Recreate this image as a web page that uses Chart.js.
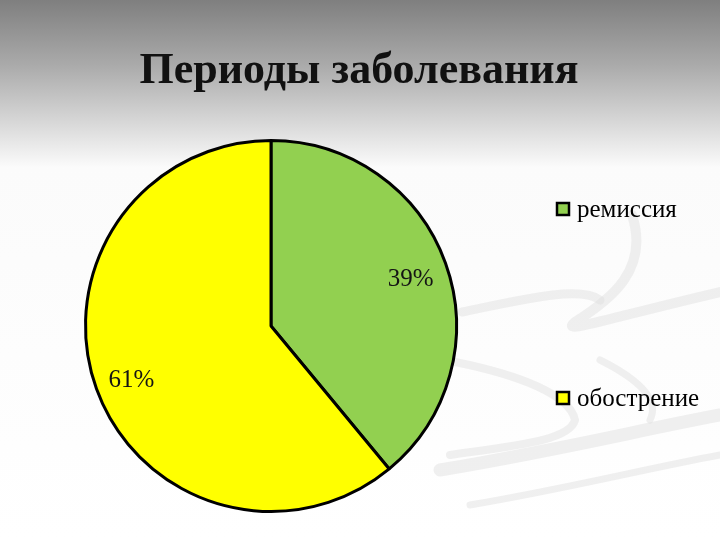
<!DOCTYPE html>
<html>
<head>
<meta charset="utf-8">
<script src="https://cdn.jsdelivr.net/npm/chart.js@4"></script>
<style>
  html, body { margin: 0; padding: 0; background: #ffffff; }
  #wrap { width: 720px; height: 540px; position: relative; }
</style>
</head>
<body>
<div id="wrap"><canvas id="c" width="720" height="540"></canvas></div>
<script>
const chartTitle = 'Периоды заболевания';
const categories = ['ремиссия', 'обострение'];
const values = [39, 61];
const percentLabels = ['39%', '61%'];
const sliceColors = ['#92D050', '#FFFF00'];

const backgroundPlugin = {
  id: 'slideBackground',
  beforeDraw(chart) {
    const ctx = chart.ctx;
    const w = chart.width, h = chart.height;
    ctx.save();
    const g = ctx.createLinearGradient(0, 0, 0, h);
    g.addColorStop(0, '#7f7f7f');
    g.addColorStop(0.12, '#aaaaaa');
    g.addColorStop(0.31, '#fbfbfb');
    g.addColorStop(1, '#ffffff');
    ctx.fillStyle = g;
    ctx.fillRect(0, 0, w, h);
    // decorative swooshes
    ctx.lineCap = 'round';
    ctx.strokeStyle = 'rgba(222,222,222,0.45)';
    ctx.lineWidth = 10;
    ctx.beginPath();
    ctx.moveTo(632, 215);
    ctx.bezierCurveTo(650, 270, 610, 300, 575, 322);
    ctx.bezierCurveTo(560, 335, 600, 320, 720, 292);
    ctx.stroke();
    ctx.lineWidth = 9;
    ctx.beginPath();
    ctx.moveTo(462, 312);
    ctx.bezierCurveTo(520, 300, 580, 285, 600, 300);
    ctx.stroke();
    ctx.lineWidth = 8;
    ctx.beginPath();
    ctx.moveTo(455, 362);
    ctx.bezierCurveTo(520, 375, 570, 395, 575, 420);
    ctx.bezierCurveTo(570, 440, 520, 445, 450, 455);
    ctx.stroke();
    ctx.lineWidth = 13;
    ctx.beginPath();
    ctx.moveTo(440, 470);
    ctx.bezierCurveTo(560, 450, 640, 430, 720, 415);
    ctx.stroke();
    ctx.lineWidth = 7;
    ctx.beginPath();
    ctx.moveTo(470, 505);
    ctx.bezierCurveTo(560, 490, 640, 470, 720, 455);
    ctx.stroke();
    ctx.lineWidth = 7;
    ctx.beginPath();
    ctx.moveTo(600, 360);
    ctx.bezierCurveTo(640, 380, 660, 400, 650, 420);
    ctx.stroke();
    ctx.restore();
  }
};

const overlayPlugin = {
  id: 'slideOverlay',
  afterDatasetsDraw(chart) {
    const ctx = chart.ctx;
    ctx.save();
    // title
    ctx.fillStyle = '#111111';
    ctx.font = 'bold 44px "Liberation Serif", serif';
    ctx.textAlign = 'center';
    ctx.textBaseline = 'alphabetic';
    ctx.fillText(chartTitle, 359, 83);

    // percent labels inside slices
    const meta = chart.getDatasetMeta(0);
    ctx.font = '25px "Liberation Serif", serif';
    ctx.fillStyle = '#141414';
    ctx.textAlign = 'center';
    ctx.textBaseline = 'middle';
    meta.data.forEach((arc, i) => {
      const p = arc.getProps(['x', 'y', 'startAngle', 'endAngle', 'outerRadius'], true);
      const mid = (p.startAngle + p.endAngle) / 2;
      const r = p.outerRadius * 0.8;
      ctx.fillText(percentLabels[i], p.x + Math.cos(mid) * r, p.y + Math.sin(mid) * r + 4);
    });

    // legend
    const legendY = [209, 398];
    const boxX = 557, box = 12;
    ctx.textAlign = 'left';
    ctx.textBaseline = 'middle';
    ctx.font = '25px "Liberation Serif", serif';
    categories.forEach((label, i) => {
      const y = legendY[i];
      ctx.fillStyle = sliceColors[i];
      ctx.fillRect(boxX, y - box / 2, box, box);
      ctx.lineWidth = 2.5;
      ctx.strokeStyle = '#000';
      ctx.strokeRect(boxX, y - box / 2, box, box);
      ctx.fillStyle = '#000';
      ctx.fillText(label, boxX + 20, y + 1);
    });
    ctx.restore();
  }
};

new Chart(document.getElementById('c'), {
  type: 'pie',
  data: {
    labels: categories,
    datasets: [{
      data: values,
      backgroundColor: sliceColors,
      borderColor: '#000000',
      borderWidth: 3,
      hoverOffset: 0
    }]
  },
  options: {
    responsive: false,
    animation: false,
    layout: { padding: { left: 84, right: 262, top: 139, bottom: 27 } },
    plugins: {
      legend: { display: false },
      title: { display: false },
      tooltip: { enabled: false }
    }
  },
  plugins: [backgroundPlugin, overlayPlugin]
});
</script>
</body>
</html>
